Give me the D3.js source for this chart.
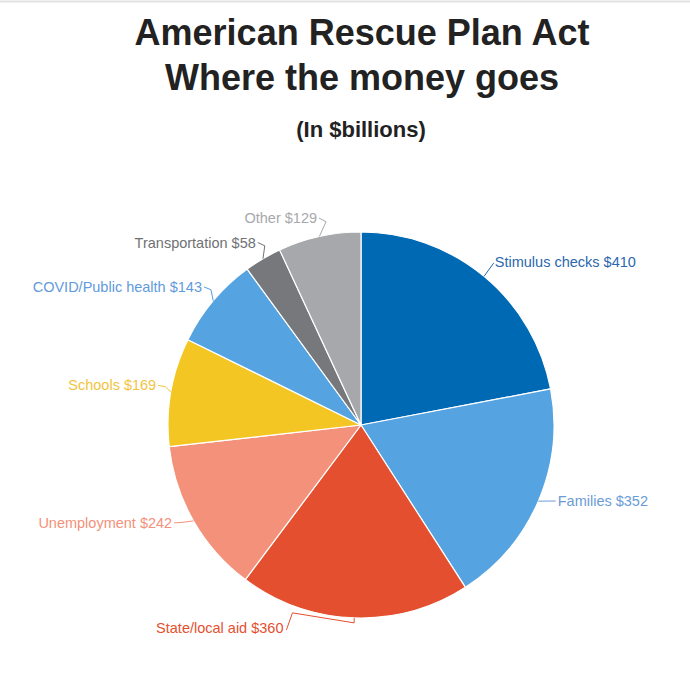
<!DOCTYPE html>
<html>
<head>
<meta charset="utf-8">
<script src="https://cdn.jsdelivr.net/npm/d3@7"></script>
<style>
  body { margin: 0; background: #fff; }
  svg { display: block; font-family: "Liberation Sans", Arial, sans-serif; }
</style>
</head>
<body>
<svg id="chart" width="690" height="690"></svg>
<script>
// data
var categories = ["Stimulus checks", "Families", "State/local aid", "Unemployment", "Schools", "COVID/Public health", "Transportation", "Other"];
var values = [410, 352, 360, 242, 169, 143, 58, 129];
var sliceColors = ["#0069b4", "#55a3e0", "#e4502f", "#f4917a", "#f4c623", "#55a3e0", "#77787b", "#a7a8ac"];
var labelColors = ["#2b67ad", "#6a9cd6", "#e4502f", "#f4917a", "#f2c43e", "#5f9bdc", "#707173", "#a7a8ac"];

// label nudges (layout only), relative to the point just outside the slice
var labelNudge = [[-3, 1], [0, -8], [-69, -10], [-3, -8], [6, -3], [5, -1], [4, 1], [3, 1]];

var svg = d3.select("#chart"),
    width = +svg.attr("width");

var cx = 361, cy = 425, r = 193, labelDist = 20;

// thin border line at the top
svg.append("line")
    .attr("x1", 0).attr("x2", width)
    .attr("y1", 1.5).attr("y2", 1.5)
    .attr("stroke", "#e2e2e2").attr("stroke-width", 2);

svg.append("text")
    .attr("x", 362).attr("y", 45)
    .attr("text-anchor", "middle")
    .style("font-size", "36px").style("font-weight", "bold").style("fill", "#222")
    .text("American Rescue Plan Act");
svg.append("text")
    .attr("x", 362).attr("y", 90)
    .attr("text-anchor", "middle")
    .style("font-size", "36px").style("font-weight", "bold").style("fill", "#222")
    .text("Where the money goes");
svg.append("text")
    .attr("x", 361).attr("y", 137)
    .attr("text-anchor", "middle")
    .style("font-size", "22px").style("font-weight", "bold").style("fill", "#222")
    .text("(In $billions)");

var data = categories.map(function(c, i) { return { name: c, value: values[i], i: i }; });

var pie = d3.pie().sort(null).value(function(d) { return d.value; });
var arcs = pie(data);

var arc = d3.arc().innerRadius(0).outerRadius(r);

var g = svg.append("g").attr("transform", "translate(" + cx + "," + cy + ")");

g.selectAll("path.slice")
    .data(arcs)
    .enter().append("path")
    .attr("class", "slice")
    .attr("d", arc)
    .attr("fill", function(d) { return sliceColors[d.data.i]; })
    .attr("stroke", "#fff")
    .attr("stroke-width", 1.2)
    .attr("stroke-linejoin", "round");

function polar(a, rad) {
  return [rad * Math.sin(a), -rad * Math.cos(a)];
}

// labels + connectors
arcs.forEach(function(d) {
  var i = d.data.i;
  var mid = (d.startAngle + d.endAngle) / 2;
  var right = mid < Math.PI;
  var edge = polar(mid, r);
  var lp = polar(mid, r + labelDist);
  lp = [lp[0] + labelNudge[i][0], lp[1] + labelNudge[i][1]];
  var sx = right ? -1 : 1;
  var pts;
  if (d.data.name === "State/local aid") {
    // pushed left under the pie
    pts = [edge, [edge[0], edge[1] + 5], [lp[0] + 8, lp[1] - 15], [lp[0] + 2, lp[1] + 2]];
  } else if (right && mid < 1) {
    pts = [edge, [lp[0], lp[1] + 1]];
  } else {
    pts = [edge, [lp[0] + sx * 8, lp[1] + (edge[1] - lp[1]) * 0.2], [lp[0] + sx, lp[1]]];
  }
  g.append("path")
      .attr("d", d3.line()(pts))
      .attr("fill", "none")
      .attr("stroke", labelColors[i])
      .attr("stroke-width", 1);
  g.append("text")
      .attr("x", lp[0] + (right ? 1 : -1))
      .attr("y", lp[1])
      .attr("dy", "0.35em")
      .attr("text-anchor", right ? "start" : "end")
      .style("font-size", "14.5px")
      .style("fill", labelColors[i])
      .text(d.data.name + " $" + d.data.value);
});
</script>
</body>
</html>
